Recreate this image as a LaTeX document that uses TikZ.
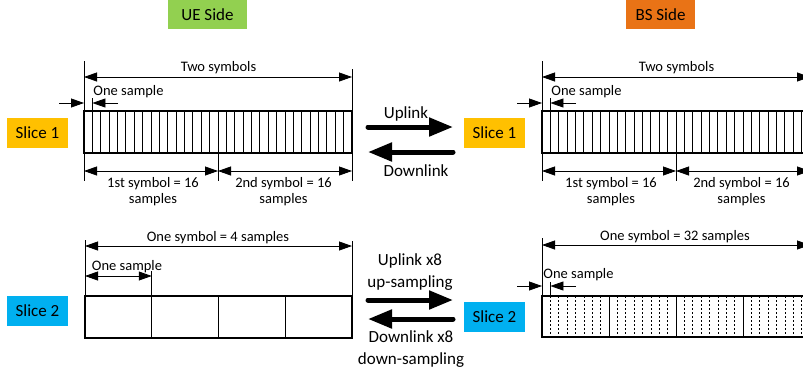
\documentclass[tikz,border=0pt]{standalone}
\usepackage{fontspec}
\setmainfont{Carlito}
\usetikzlibrary{arrows.meta}
\definecolor{uegreen}{HTML}{92D050}
\definecolor{bsorange}{HTML}{E97316}
\definecolor{sliceyellow}{HTML}{FFC000}
\definecolor{sliceblue}{HTML}{00B0F0}
\tikzset{
  tag/.style={fill=#1, minimum height=30pt, inner sep=0pt, font=\fontsize{17}{20}\selectfont},
  small/.style={font=\fontsize{14.5}{16.5}\selectfont, inner sep=0pt, align=center},
  dimline/.style={line width=0.8pt, {Triangle[length=13pt,width=9pt]}-{Triangle[length=13pt,width=9pt]}},
  tipline/.style={line width=0.8pt, -{Triangle[length=13pt,width=9pt]}},
  extline/.style={line width=0.8pt},
  frame/.style={draw, line width=1.4pt, inner sep=0pt, outer sep=0pt, anchor=north west},
  sampleline/.style={line width=0.9pt},
  subline/.style={line width=0.7pt, dash pattern=on 2pt off 2pt},
  bigarrow/.style={line width=5pt, line cap=round, -{Triangle[length=24pt,width=18pt]}},
  linklabel/.style={font=\fontsize{17}{21.5}\selectfont, align=center, inner sep=0pt},
}
\begin{document}
\begin{tikzpicture}[x=1pt,y=-1pt]
\clip (0,0) rectangle (803,376);
\useasboundingbox (0,0) rectangle (803,376);

% side headers
\node[tag=uegreen, minimum width=79pt, minimum height=29pt] (ueside) at (207.5,14.5) {UE Side};
\node[tag=bsorange, minimum width=69pt, minimum height=29pt] (bsside) at (660.5,14.5) {BS Side};

% slice tags
\node[tag=sliceyellow, minimum width=61pt] (ueslice1) at (37.5,133) {Slice 1};
\node[tag=sliceyellow, minimum width=61pt] (bsslice1) at (494.5,133) {Slice 1};
\node[tag=sliceblue, minimum width=61pt] (ueslice2) at (37.5,311) {Slice 2};
\node[tag=sliceblue, minimum width=61pt] (bsslice2) at (494.5,317) {Slice 2};

% slice 1: two symbols of 16 samples, same on both sides
\foreach \side/\off in {ue/0, bs/458} {
  \begin{scope}[xshift=\off pt]
    \node[frame, minimum width=268pt, minimum height=42pt] (\side grid1) at (84,111) {};
    \foreach \k in {1,...,31}
      \draw[sampleline] ([xshift=\k*8.375pt]\side grid1.north west) -- ([xshift=\k*8.375pt]\side grid1.south west);
    % two-symbol span
    \coordinate (\side topL) at (84,61);
    \coordinate (\side topR) at (352,69);
    \draw[extline] (\side topL) -- (\side grid1.north west);
    \draw[extline] (\side topR) -- (\side grid1.north east);
    \coordinate (\side spanL) at (84,77);
    \coordinate (\side spanR) at (352,77);
    \draw[dimline] (\side spanL) -- (\side spanR);
    \node[small] (\side two) at (218.5,67.5) {Two symbols};
    % one sample
    \coordinate (\side sa) at (59,103);
    \coordinate (\side sb) at (84,103);
    \coordinate (\side sc) at (92.4,103);
    \coordinate (\side sd) at (118,103);
    \draw[tipline] (\side sa) -- (\side sb);
    \draw[tipline] (\side sd) -- (\side sc);
    \coordinate (\side se) at (92.4,98);
    \coordinate (\side sf) at (92.4,111);
    \draw[extline] (\side se) -- (\side sf);
    \node[small] (\side one) at (128.5,92) {One sample};
    % per-symbol spans
    \coordinate (\side bL) at (84,181);
    \coordinate (\side bM) at (218,181);
    \coordinate (\side bR) at (352,181);
    \coordinate (\side bMt) at (218,153);
    \draw[extline] (\side grid1.south west) -- (\side bL);
    \draw[extline] (\side bMt) -- (\side bM);
    \draw[extline] (\side grid1.south east) -- (\side bR);
    \coordinate (\side aL) at (84,171);
    \coordinate (\side aM) at (218,171);
    \coordinate (\side aR) at (352,171);
    \draw[dimline] (\side aL) -- (\side aM);
    \draw[dimline] (\side aM) -- (\side aR);
    \node[small] (\side first) at (153,191.5) {1st symbol = 16\\samples};
    \node[small] (\side second) at (283.5,191.5) {2nd symbol = 16\\samples};
  \end{scope}
}

% slice 2, UE side: one symbol of 4 samples
\node[frame, minimum width=267pt, minimum height=42pt] (uegrid2) at (85,296) {};
\foreach \k in {1,2,3}
  \draw[sampleline] ([xshift=\k*66.75pt]uegrid2.north west) -- ([xshift=\k*66.75pt]uegrid2.south west);
\coordinate (u2topL) at (85,240);
\coordinate (u2topR) at (352,241);
\draw[extline] (u2topL) -- (uegrid2.north west);
\draw[extline] (u2topR) -- (uegrid2.north east);
\coordinate (u2spanL) at (85,246);
\coordinate (u2spanR) at (352,246);
\draw[dimline] (u2spanL) -- (u2spanR);
\node[small] (uesym) at (218,237.5) {One symbol = 4 samples};
\coordinate (u2sL) at (85,276);
\coordinate (u2sR) at (151.75,276);
\coordinate (u2sT) at (151.75,271);
\coordinate (u2sB) at (151.75,296);
\draw[extline] (u2sT) -- (u2sB);
\draw[dimline] (u2sL) -- (u2sR);
\node[small] (ueone2) at (127,266.5) {One sample};

% slice 2, BS side: one symbol of 32 samples
\node[frame, minimum width=268pt, minimum height=41pt] (bsgrid2) at (542,296) {};
\foreach \k in {1,...,31} {
  \pgfmathtruncatemacro{\r}{mod(\k,8)}
  \ifnum\r=0
    \draw[sampleline] ([xshift=\k*8.375pt]bsgrid2.north west) -- ([xshift=\k*8.375pt]bsgrid2.south west);
  \else
    \draw[subline] ([xshift=\k*8.375pt]bsgrid2.north west) -- ([xshift=\k*8.375pt]bsgrid2.south west);
  \fi
}
\coordinate (b2topL) at (542,238);
\draw[extline] (b2topL) -- (bsgrid2.north west);
\coordinate (b2spanL) at (542,245);
\coordinate (b2spanR) at (810,245);
\draw[dimline] (b2spanL) -- (b2spanR);
\node[small] (bssym) at (675,236.5) {One symbol = 32 samples};
\coordinate (b2sa) at (517,286);
\coordinate (b2sb) at (542,286);
\coordinate (b2sc) at (550.4,286);
\coordinate (b2sd) at (576,286);
\draw[tipline] (b2sa) -- (b2sb);
\draw[tipline] (b2sd) -- (b2sc);
\coordinate (b2se) at (550.4,282);
\coordinate (b2sf) at (550.4,296);
\draw[extline] (b2se) -- (b2sf);
\node[small] (bsone2) at (578.5,274.5) {One sample};

% links between the two sides
\coordinate (l1a) at (368,127);
\coordinate (l1b) at (453,127);
\coordinate (l2a) at (453,152);
\coordinate (l2b) at (368,152);
\draw[bigarrow] (l1a) -- (l1b);
\draw[bigarrow] (l2a) -- (l2b);
\node[linklabel] (uplink1) at (406,114) {Uplink};
\node[linklabel] (downlink1) at (416,170.5) {Downlink};

\coordinate (l3a) at (368,300);
\coordinate (l3b) at (453,300);
\coordinate (l4a) at (453,319);
\coordinate (l4b) at (368,319);
\draw[bigarrow] (l3a) -- (l3b);
\draw[bigarrow] (l4a) -- (l4b);
\node[linklabel] (uplink2) at (410,272) {Uplink x8\\up-sampling};
\node[linklabel] (downlink2) at (411,349) {Downlink x8\\down-sampling};
\end{tikzpicture}
\end{document}
